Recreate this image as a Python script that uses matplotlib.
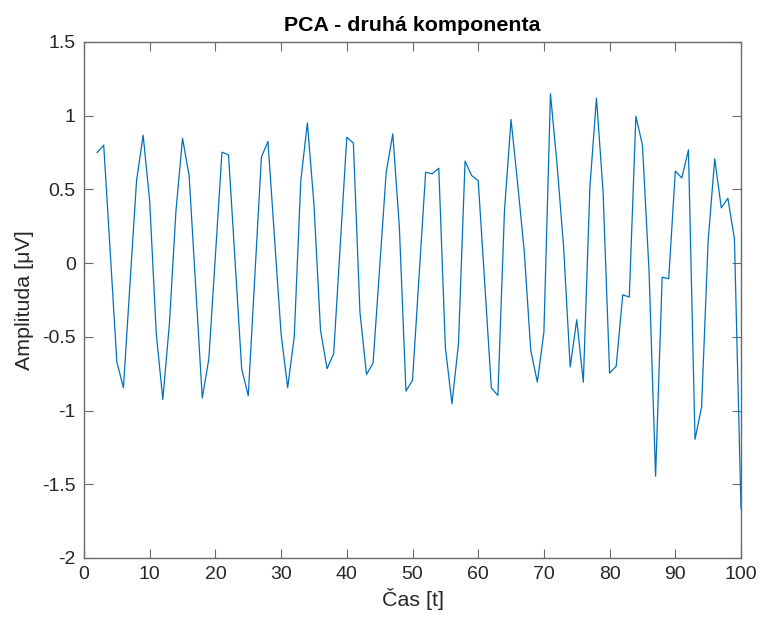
import matplotlib
matplotlib.use("Agg")
import matplotlib.pyplot as plt

# second principal component, samples 2..100
t = list(range(2, 101))
amplitude = [
    0.75, 0.80, 0.07, -0.67, -0.845, -0.14, 0.56, 0.868, 0.42,          # 2-10
    -0.48, -0.924, -0.41, 0.357, 0.847, 0.594, -0.16, -0.915, -0.65, 0.05,  # 11-20
    0.753, 0.734, 0.01, -0.716, -0.90, -0.09, 0.719, 0.825, 0.17, -0.48,    # 21-30
    -0.845, -0.50, 0.56, 0.951, 0.40, -0.456, -0.716, -0.615, 0.12, 0.854,  # 31-40
    0.814, -0.332, -0.755, -0.678, -0.03, 0.617, 0.877, 0.244, -0.868, -0.795,  # 41-50
    -0.09, 0.617, 0.606, 0.644, -0.57, -0.954, -0.547, 0.692, 0.594, 0.56,  # 51-60
    -0.14, -0.847, -0.897, 0.357, 0.974, 0.54, 0.086, -0.592, -0.807, -0.468,  # 61-70
    1.148, 0.67, 0.11, -0.705, -0.384, -0.807, 0.515, 1.12, 0.49, -0.746,  # 71-80
    -0.70, -0.215, -0.23, 0.997, 0.80, -0.05, -1.444, -0.095, -0.106, 0.624,  # 81-90
    0.578, 0.768, -1.195, -0.976, 0.154, 0.707, 0.375, 0.44, 0.165, -1.666,  # 91-100
]

x_ticks = [0, 10, 20, 30, 40, 50, 60, 70, 80, 90, 100]
y_ticks = [-2, -1.5, -1, -0.5, 0, 0.5, 1, 1.5]
y_tick_labels = ["-2", "-1.5", "-1", "-0.5", "0", "0.5", "1", "1.5"]

plt.rcParams["font.family"] = ["Liberation Sans", "DejaVu Sans"]

fig = plt.figure(figsize=(7.61, 6.26), dpi=100)
ax = fig.add_axes([84 / 761, 1 - 558 / 626, (741 - 84) / 761, (558 - 42) / 626])

ax.plot(t, amplitude, color="#0072BD", linewidth=0.9)

ax.set_xlim(0, 100)
ax.set_ylim(-2, 1.5)
ax.set_xticks(x_ticks)
ax.set_yticks(y_ticks)
ax.set_yticklabels(y_tick_labels)

axis_col = "#6a6a6a"
text_col = "#262626"
for s in ax.spines.values():
    s.set_color(axis_col)
    s.set_linewidth(1.0)
ax.tick_params(direction="in", length=6.5, width=0.8, color=axis_col,
               labelcolor=text_col, labelsize=14, pad=6,
               top=True, right=True)

ax.set_xlabel("Čas [t]", fontsize=15.4, color=text_col, labelpad=3)
ax.set_ylabel("Amplituda [μV]", fontsize=15.4, color=text_col, labelpad=6)
ax.set_title("PCA - druhá komponenta", fontsize=15.4, fontweight="bold",
             color="black", pad=8)

fig.savefig("out.png", dpi=100)
